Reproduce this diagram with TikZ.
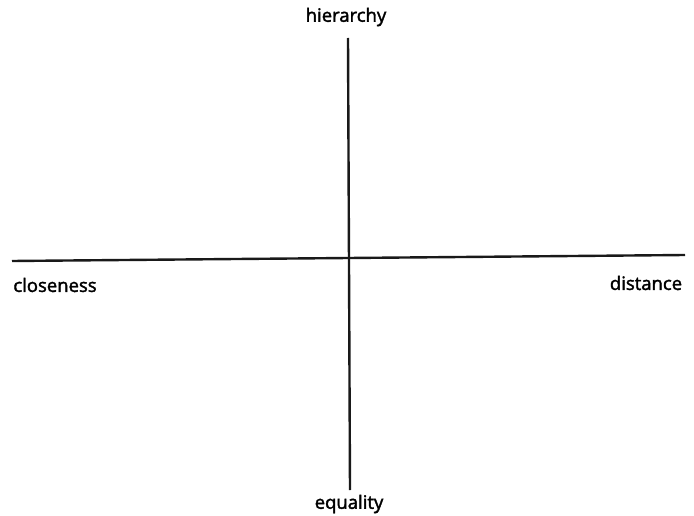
\documentclass[tikz,border=0pt]{standalone}
\usepackage{fontspec}
\setmainfont{Open Sans}
\begin{document}
\begin{tikzpicture}[
    x=1pt, y=-1pt,
    axis/.style={line width=2.4pt, black!90},
    lbl/.style={inner sep=0pt, font=\fontsize{18.5}{21}\selectfont\addfontfeatures{FakeBold=2}}
]
\useasboundingbox (0,0) rectangle (694,516);
\coordinate (top) at (348, 38);
\coordinate (bottom) at (350, 490);
\coordinate (left) at (12, 261);
\coordinate (right) at (685, 255);

\node[lbl] (hier) at (346, 17) {hierarchy};
\node[lbl] (equal) at (349, 504) {equality};
\node[lbl] (close) at (55, 285) {closeness};
\node[lbl] (dist) at (646, 283) {distance};

\draw[axis] (top) -- (bottom);
\draw[axis] (left) -- (right);
\end{tikzpicture}
\end{document}
